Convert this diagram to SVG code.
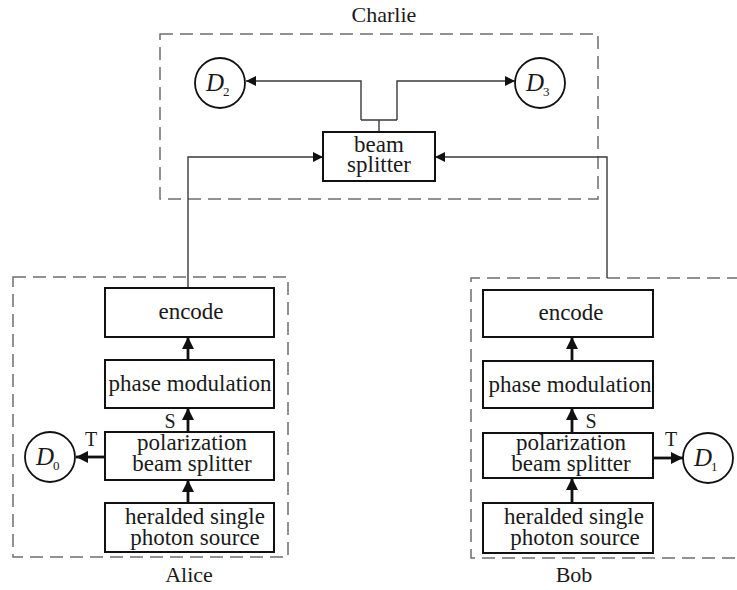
<svg xmlns="http://www.w3.org/2000/svg" width="737" height="590" viewBox="0 0 737 590">
<defs>
<style>
.dash{fill:none;stroke:#6e6e6e;stroke-width:1.5;stroke-dasharray:13 7}
.box{fill:#fff;stroke:#111;stroke-width:2}
.circ{fill:#fff;stroke:#111;stroke-width:1.8}
.thin{fill:none;stroke:#3a3a3a;stroke-width:1.4}
.thick{fill:none;stroke:#111;stroke-width:2.8}
.t{font-family:"Liberation Serif","Times New Roman",serif;font-size:23px;fill:#1a1a1a;text-anchor:middle}
.lab{font-family:"Liberation Serif","Times New Roman",serif;font-size:22px;fill:#1a1a1a;text-anchor:middle}
.st{font-family:"Liberation Serif","Times New Roman",serif;font-size:20px;fill:#1a1a1a;text-anchor:middle}
.d{font-family:"Liberation Serif","Times New Roman",serif;font-size:25px;font-style:italic;fill:#1a1a1a}
.sub{font-family:"Liberation Serif","Times New Roman",serif;font-size:13px;fill:#1a1a1a}
</style>
<marker id="ah" viewBox="0 0 10 10" refX="10" refY="5" markerWidth="10" markerHeight="10" markerUnits="userSpaceOnUse" orient="auto">
<path d="M0,0 L10,5 L0,10 z" fill="#111"/>
</marker>
<marker id="ahb" viewBox="0 0 10 10" refX="10" refY="5" markerWidth="12" markerHeight="12" markerUnits="userSpaceOnUse" orient="auto">
<path d="M0,0 L10,5 L0,10 z" fill="#111"/>
</marker>
</defs>
<rect width="737" height="590" fill="#fff"/>

<g id="charlie">
<rect class="dash" x="160" y="34" width="438" height="165"/>
<text class="lab" x="384" y="22">Charlie</text>
</g>
<g id="alice">
<rect class="dash" x="13" y="277" width="275" height="280"/>
<text class="lab" x="189" y="582">Alice</text>
</g>
<g id="bob">
<path class="dash" d="M740,278 H471 V558 H740"/>
<text class="lab" x="574" y="582">Bob</text>
</g>

<g id="connectors">
<path class="thin" d="M379,132 V120 M361,120 H397 M361,120 V81 H246" marker-end="url(#ah)"/>
<path class="thin" d="M397,120 V81 H515" marker-end="url(#ah)"/>
<path class="thin" d="M188,288 V157 H323" marker-end="url(#ah)"/>
<path class="thin" d="M607,278 V157 H435" marker-end="url(#ah)"/>
<path class="thick" d="M188,503 V480" marker-end="url(#ahb)"/>
<path class="thick" d="M188,432 V408" marker-end="url(#ahb)"/>
<path class="thick" d="M188,360 V337" marker-end="url(#ahb)"/>
<path class="thick" d="M105,457 H76" marker-end="url(#ahb)"/>
<path class="thick" d="M572,503 V478" marker-end="url(#ahb)"/>
<path class="thick" d="M572,433 V408" marker-end="url(#ahb)"/>
<path class="thick" d="M572,361 V337" marker-end="url(#ahb)"/>
<path class="thick" d="M653,458 H683" marker-end="url(#ahb)"/>
<text class="st" x="170" y="428">S</text>
<text class="st" x="91" y="446">T</text>
<text class="st" x="591" y="428">S</text>
<text class="st" x="671" y="446">T</text>
</g>

<g id="beam-splitter">
<rect class="box" x="323" y="132" width="112" height="49"/>
<text class="t" x="379" y="152">beam</text>
<text class="t" x="379" y="172">splitter</text>
</g>
<g id="D2">
<circle class="circ" cx="220" cy="83" r="25"/>
<text class="d" x="206" y="91">D</text><text class="sub" x="223" y="96">2</text>
</g>
<g id="D3">
<circle class="circ" cx="540" cy="83" r="25"/>
<text class="d" x="526" y="91">D</text><text class="sub" x="543" y="96">3</text>
</g>

<g id="alice-encode">
<rect class="box" x="105" y="288" width="169" height="49"/>
<text class="t" x="191" y="319">encode</text>
</g>
<g id="alice-phase">
<rect class="box" x="105" y="360" width="169" height="48"/>
<text class="t" x="190" y="391">phase modulation</text>
</g>
<g id="alice-pbs">
<rect class="box" x="105" y="432" width="169" height="48"/>
<text class="t" x="192" y="450">polarization</text>
<text class="t" x="192" y="471">beam splitter</text>
</g>
<g id="alice-source">
<rect class="box" x="105" y="503" width="169" height="49"/>
<text class="t" x="195" y="524">heralded single</text>
<text class="t" x="195" y="545">photon source</text>
</g>
<g id="D0">
<circle class="circ" cx="50" cy="457" r="25"/>
<text class="d" x="36" y="465">D</text><text class="sub" x="53" y="470">0</text>
</g>

<g id="bob-encode">
<rect class="box" x="483" y="290" width="170" height="47"/>
<text class="t" x="571" y="320">encode</text>
</g>
<g id="bob-phase">
<rect class="box" x="483" y="361" width="170" height="47"/>
<text class="t" x="570" y="392">phase modulation</text>
</g>
<g id="bob-pbs">
<rect class="box" x="483" y="433" width="170" height="45"/>
<text class="t" x="571" y="450">polarization</text>
<text class="t" x="571" y="471">beam splitter</text>
</g>
<g id="bob-source">
<rect class="box" x="483" y="503" width="170" height="50"/>
<text class="t" x="574" y="524">heralded single</text>
<text class="t" x="575" y="545">photon source</text>
</g>
<g id="D1">
<circle class="circ" cx="708" cy="458" r="25"/>
<text class="d" x="694" y="466">D</text><text class="sub" x="711" y="471">1</text>
</g>
</svg>
